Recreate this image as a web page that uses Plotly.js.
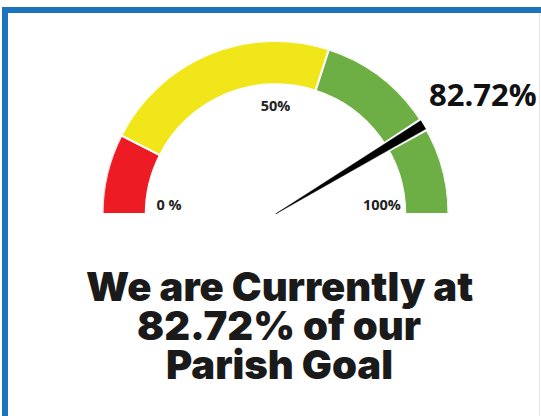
<!DOCTYPE html>
<html>
<head>
<meta charset="utf-8">
<script src="https://cdn.plot.ly/plotly-3.0.1.min.js"></script>
<style>
  html, body { margin: 0; padding: 0; background: #ffffff; }
  #chart { width: 541px; height: 416px; }
</style>
</head>
<body>
<div id="chart"></div>
<script>
// ---- data ----
const currentPercent = [82.72];
const stepStarts = [0, 15, 60];
const stepEnds = [15, 60, 100];
const stepNames = ['Low', 'Mid', 'High'];
const tickValues = [0, 50, 100];
const tickLabels = ['0 %', '50%', '100%'];
const headlineLines = ['We are Currently at', '82.72% of our', 'Parish Goal'];

// ---- styles ----
const stepColors = ['#ED1C24', '#F0E61A', '#6DAE45'];
const W = 541, H = 416;
const cx = 275.5, cy = 214, R = 173;   // gauge centre / radius in px
const degPerPct = 1.8;

function px(x) { return x / W; }
function py(y) { return (H - y) / H; }

const traces = [];

// gauge band segments
traces.push({
  type: 'barpolar',
  r: stepStarts.map(() => 0.25),
  base: stepStarts.map(() => 0.75),
  theta: stepStarts.map((s, i) => (s + stepEnds[i]) / 2 * degPerPct),
  width: stepStarts.map((s, i) => (stepEnds[i] - s) * degPerPct),
  text: stepNames,
  marker: { color: stepColors, line: { color: '#ffffff', width: 2 } },
  hoverinfo: 'skip',
  showlegend: false
});

// needle (white halo + black wedge)
const v = currentPercent[0] * degPerPct;
traces.push({
  type: 'scatterpolar',
  mode: 'lines',
  r: [0, 1.02, 1.02, 0],
  theta: [v, v - 2.4, v + 2.4, v],
  fill: 'toself',
  fillcolor: '#ffffff',
  line: { color: '#ffffff', width: 0 },
  hoverinfo: 'skip',
  showlegend: false
});
traces.push({
  type: 'scatterpolar',
  mode: 'lines',
  r: [0, 1.0, 1.0, 0],
  theta: [v, v - 1.6, v + 1.6, v],
  fill: 'toself',
  fillcolor: '#000000',
  line: { color: '#000000', width: 0.5 },
  hoverinfo: 'skip',
  showlegend: false
});

// tick labels
traces.push({
  type: 'scatterpolar',
  mode: 'text',
  r: tickValues.map(() => 0.615),
  theta: tickValues.map(t => t * degPerPct),
  text: tickLabels,
  textposition: tickValues.map(t => (t === 0 || t === 100) ? 'top center' : 'middle center'),
  textfont: { family: 'Open Sans', size: 14.5, weight: 'bold', color: '#222222' },
  hoverinfo: 'skip',
  showlegend: false
});

const annotations = [
  {
    xref: 'paper', yref: 'paper', x: px(483), y: py(94),
    xanchor: 'center', yanchor: 'middle', showarrow: false,
    text: currentPercent[0].toFixed(2) + '%',
    font: { family: 'Open Sans', size: 31, weight: 'bold', color: '#111111' }
  }
];
const lineCentres = [286, 325, 364];
headlineLines.forEach((t, i) => {
  annotations.push({
    xref: 'paper', yref: 'paper', x: px(279), y: py(lineCentres[i]),
    xanchor: 'center', yanchor: 'middle', showarrow: false,
    text: t,
    font: { family: 'Inter', size: 40, weight: 900, color: '#1a1a1a' }
  });
});

const layout = {
  width: W, height: H,
  margin: { l: 0, r: 0, t: 0, b: 0 },
  paper_bgcolor: '#ffffff',
  plot_bgcolor: '#ffffff',
  showlegend: false,
  polar: {
    domain: { x: [px(cx - R), px(cx + R)], y: [py(cy), py(cy - R)] },
    sector: [0, 180],
    hole: 0,
    bgcolor: 'rgba(0,0,0,0)',
    bargap: 0,
    radialaxis: { visible: false, range: [0, 1] },
    angularaxis: { visible: false, rotation: 180, direction: 'clockwise' }
  },
  annotations: annotations,
  shapes: [
    { type: 'rect', xref: 'paper', yref: 'paper', x0: px(2), x1: px(8), y0: py(416), y1: py(7),
      fillcolor: '#1E73BE', line: { width: 0 } },
    { type: 'rect', xref: 'paper', yref: 'paper', x0: px(2), x1: px(541), y0: py(13), y1: py(7),
      fillcolor: '#1E73BE', line: { width: 0 } },
    { type: 'line', xref: 'paper', yref: 'paper', x0: px(539.5), x1: px(539.5), y0: py(416), y1: py(13),
      line: { color: '#e4e4e4', width: 1 } }
  ]
};

Plotly.newPlot('chart', traces, layout, { displayModeBar: false, staticPlot: true });
</script>
</body>
</html>
